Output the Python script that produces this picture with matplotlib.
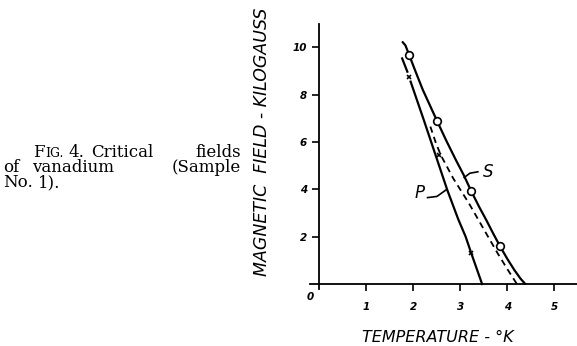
import matplotlib
matplotlib.use("Agg")
import matplotlib.pyplot as plt

# ---- data ----
s_points_temp = [1.91, 2.50, 3.23, 3.84]
s_points_field = [9.67, 6.90, 3.92, 1.60]
s_curve_temp = [1.77, 1.83, 1.91, 2.05, 2.20, 2.35, 2.50, 2.70, 2.90, 3.07, 3.23,
                3.40, 3.55, 3.70, 3.84, 4.00, 4.15, 4.28, 4.38]
s_curve_field = [10.22, 10.08, 9.67, 8.95, 8.20, 7.55, 6.90, 6.05, 5.25, 4.60, 3.92,
                 3.25, 2.70, 2.12, 1.60, 1.05, 0.58, 0.22, 0.0]

p_points_temp = [1.91, 2.54, 3.23]
p_points_field = [8.76, 5.45, 1.30]
p_top_temp = [1.76, 1.87]
p_top_field = [9.53, 8.97]
p_curve_temp = [1.94, 2.22, 2.47, 2.72, 2.95, 3.11, 3.23, 3.46]
p_curve_field = [8.55, 6.93, 5.45, 3.97, 2.75, 2.00, 1.30, 0.0]

d_curve_temp = [2.36, 2.47, 2.58, 2.85, 3.18, 3.50, 3.79, 4.00, 4.20]
d_curve_field = [6.65, 6.00, 5.45, 4.45, 3.41, 2.30, 1.30, 0.62, 0.0]

x_ticks = [1, 2, 3, 4, 5]
y_ticks = [2, 4, 6, 8, 10]

W, H = 577, 346
fig = plt.figure(figsize=(W / 100, H / 100), dpi=100)

xl, xr = -0.2, 5.5
yb, yt = -0.5, 11.0
left_px, right_px = 310, 578
ppk = 23.67
y0_px = 284
top_px = y0_px - yt * ppk
bot_px = y0_px - yb * ppk
ax = fig.add_axes([left_px / W, 1 - bot_px / H, (right_px - left_px) / W, (bot_px - top_px) / H])
ax.set_xlim(xl, xr)
ax.set_ylim(yb, yt)
ax.patch.set_alpha(0)

for s in ["top", "right"]:
    ax.spines[s].set_visible(False)
ax.spines["left"].set_position(("data", 0))
ax.spines["bottom"].set_position(("data", 0))
ax.spines["left"].set_bounds(-0.2, 11.0)
ax.spines["bottom"].set_bounds(-0.2, 5.5)
for s in ["left", "bottom"]:
    ax.spines[s].set_linewidth(1.3)
    ax.spines[s].set_color("black")

tick_font = dict(family="DejaVu Sans", style="italic", weight="bold", size=7.5)
ax.set_xticks(x_ticks)
ax.set_xticklabels([str(t) for t in x_ticks], **tick_font)
ax.set_yticks(y_ticks)
ax.set_yticklabels([str(t) for t in y_ticks], **tick_font)
ax.tick_params(axis="x", direction="out", length=5, width=1.2, pad=8)
ax.tick_params(axis="y", direction="out", length=5, width=1.2, pad=4)
ax.text(-0.19, -0.55, "0", ha="center", va="center", **tick_font)

# curves
lw = 1.6
ax.plot(s_curve_temp, s_curve_field, color="black", lw=lw, solid_capstyle="round")
ax.plot(p_top_temp, p_top_field, color="black", lw=lw)
ax.plot(p_curve_temp, p_curve_field, color="black", lw=lw)
ax.plot(d_curve_temp, d_curve_field, color="black", lw=1.3, linestyle=(0, (3.5, 2.5)))
ax.plot(s_points_temp, s_points_field, linestyle="none", marker="o", markersize=5.5,
        markerfacecolor="white", markeredgecolor="black", markeredgewidth=1.2, zorder=5)
ax.plot(p_points_temp, p_points_field, linestyle="none", marker="x", markersize=3.5,
        color="black", markeredgewidth=1.2, zorder=5)

# curve labels
lab_font = dict(family="DejaVu Sans", style="italic", size=12, color="black")
ax.text(3.58, 4.72, "S", ha="center", va="center", **lab_font)
ax.plot([3.08, 3.2, 3.37], [4.50, 4.68, 4.74], color="black", lw=1.2)
ax.text(2.12, 3.85, "P", ha="center", va="center", **lab_font)
ax.plot([2.30, 2.50, 2.69], [3.65, 3.70, 3.97], color="black", lw=1.2)

# axis titles
fig.text(438 / W, 1 - 338 / H, "TEMPERATURE - \u00b0K", ha="center", va="center",
         family="DejaVu Sans", style="italic", size=11.5)
fig.text(262 / W, 1 - 142 / H, "MAGNETIC  FIELD - KILOGAUSS", ha="center", va="center",
         rotation=90, family="DejaVu Sans", style="italic", size=12.5)

# caption (justified words)
cap = dict(family="DejaVu Serif", size=12, color="black", va="baseline")

def put(x, y, s, ha="left", **kw):
    d = dict(cap)
    d.update(kw)
    fig.text(x / W, 1 - y / H, s, ha=ha, **d)

put(33, 157, "F")
put(45, 157, "IG.", size=9)
put(68, 157, "4.")
put(91, 157, "Critical")
put(241, 157, "fields", ha="right")
put(3, 172, "of")
put(32, 172, "vanadium")
put(241, 172, "(Sample", ha="right")
put(3, 187, "No.")
put(38, 187, "1).")

fig.savefig("out.png", dpi=100)
